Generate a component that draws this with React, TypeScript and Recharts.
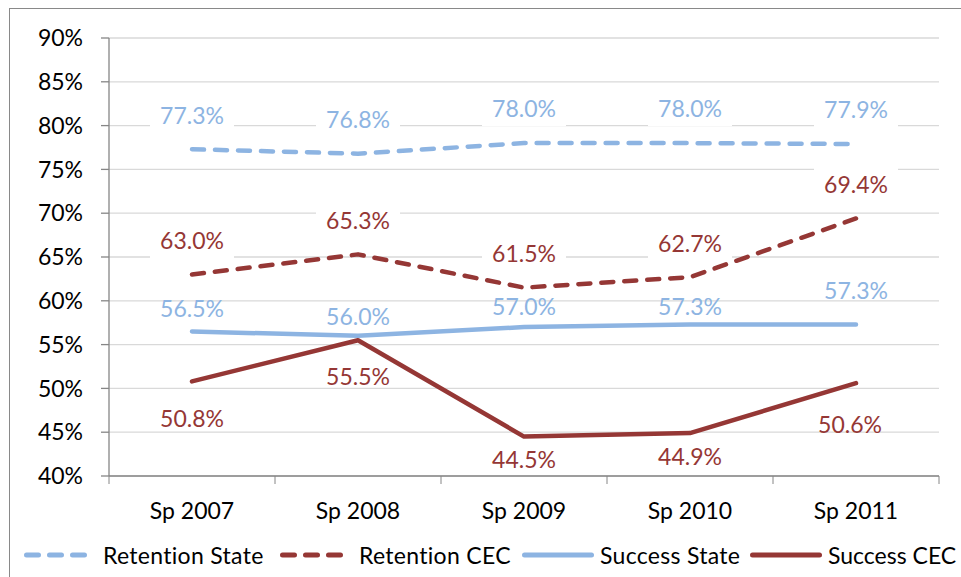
import React from "react";
import { LineChart, Line, XAxis, YAxis, CartesianGrid, LabelList } from "recharts";

const categories = ["Sp 2007", "Sp 2008", "Sp 2009", "Sp 2010", "Sp 2011"];
const retentionState = [77.3, 76.8, 78.0, 78.0, 77.9];
const retentionCEC = [63.0, 65.3, 61.5, 62.7, 69.4];
const successState = [56.5, 56.0, 57.0, 57.3, 57.3];
const successCEC = [50.8, 55.5, 44.5, 44.9, 50.6];
const yTicks = [40, 45, 50, 55, 60, 65, 70, 75, 80, 85, 90];

const BLUE = "#8DB4E2";
const RED = "#953735";
const AXIS = "#868686";
const GRID = "#D9D9D9";
const FONT = "Lato, 'Open Sans', sans-serif";
const BAND = 166;

// label placement, relative to each point (label text centre)
const labelDy = {
  retentionState: [-34, -34, -34, -34, -34],
  retentionCEC: [-33.5, -33.5, -33.5, -33.5, -33.5],
  successState: [-23, -19.5, -20.5, -18, -34],
  successCEC: [37, 36.5, 23, 23.5, 42],
};
const labelDx = {
  retentionState: [0, 0, 0, 0, 0],
  retentionCEC: [0, 0, 0, 0, 0],
  successState: [0, 0, 0, 0, 0],
  successCEC: [0, 0, 0, 0, -6],
};

const data = categories.map((name, i) => ({
  name,
  retentionState: retentionState[i],
  retentionCEC: retentionCEC[i],
  successState: successState[i],
  successCEC: successCEC[i],
}));

const makeLabel = (key: keyof typeof labelDy, color: string, boxed: boolean) => (props: any) => {
  const index = props.index ?? 0;
  const x = (props.x ?? props.viewBox?.x) + labelDx[key][index];
  const y = (props.y ?? props.viewBox?.y) + labelDy[key][index];
  const text = `${Number(props.value).toFixed(1)}%`;
  return (
    <g>
      {boxed && <rect x={x - 42} y={y - 17} width={84} height={34} fill="#fff" />}
      <text x={x} y={y + 8.3} textAnchor="middle" fill={color} fontSize={23} fontFamily={FONT}>
        {text}
      </text>
    </g>
  );
};

const XTick = (props: any) => {
  const { x, y, payload, index } = props;
  return (
    <g>
      <line x1={x - BAND / 2} x2={x - BAND / 2} y1={y} y2={y + 8} stroke={AXIS} />
      {index === categories.length - 1 && (
        <line x1={x + BAND / 2} x2={x + BAND / 2} y1={y} y2={y + 8} stroke={AXIS} />
      )}
      <text x={x} y={y + 43} textAnchor="middle" fill="#000" fontSize={23} fontFamily={FONT}>
        {payload.value}
      </text>
    </g>
  );
};

const legendItems = [
  { label: "Retention State", color: BLUE, dashed: true, left: 24 },
  { label: "Retention CEC", color: RED, dashed: true, left: 280 },
  { label: "Success State", color: BLUE, dashed: false, left: 522 },
  { label: "Success CEC", color: RED, dashed: false, left: 750 },
];

export default function App() {
  return (
    <div
      style={{
        position: "absolute",
        left: 0,
        top: 0,
        width: 961,
        height: 577,
        overflow: "hidden",
        background: "#fff",
        fontFamily: FONT,
      }}
    >
      <div
        style={{
          position: "absolute",
          left: 9,
          top: 8,
          width: 1000,
          height: 1000,
          border: "1px solid #898989",
        }}
      />
      <div style={{ position: "absolute", left: 0, top: 0 }}>
        <LineChart width={961} height={577} data={data} margin={{ top: 38, right: 22, bottom: 51, left: 0 }}>
          <CartesianGrid vertical={false} stroke={GRID} strokeWidth={1.3} />
          <XAxis
            dataKey="name"
            height={50}
            padding={{ left: BAND / 2, right: BAND / 2 }}
            axisLine={{ stroke: AXIS, strokeWidth: 1.3 }}
            tickLine={false}
            tickSize={0}
            tickMargin={0}
            interval={0}
            tick={<XTick />}
          />
          <YAxis
            width={109}
            domain={[40, 90]}
            ticks={yTicks}
            interval={0}
            tickFormatter={(v: number) => `${v}%`}
            axisLine={{ stroke: AXIS, strokeWidth: 1.3 }}
            tickLine={{ stroke: AXIS, strokeWidth: 1.3 }}
            tickSize={8}
            tickMargin={18}
            tick={{ fill: "#000", fontSize: 23, fontFamily: FONT }}
          />
          <Line
            type="linear"
            dataKey="retentionState"
            stroke={BLUE}
            strokeWidth={4.5}
            strokeDasharray="12 11"
            strokeLinecap="round"
            strokeLinejoin="round"
            dot={false}
            activeDot={false}
            isAnimationActive={false}
          >
            <LabelList dataKey="retentionState" content={makeLabel("retentionState", BLUE, true)} />
          </Line>
          <Line
            type="linear"
            dataKey="retentionCEC"
            stroke={RED}
            strokeWidth={4.5}
            strokeDasharray="12 11"
            strokeLinecap="round"
            strokeLinejoin="round"
            dot={false}
            activeDot={false}
            isAnimationActive={false}
          >
            <LabelList dataKey="retentionCEC" content={makeLabel("retentionCEC", RED, true)} />
          </Line>
          <Line
            type="linear"
            dataKey="successState"
            stroke={BLUE}
            strokeWidth={4.5}
            strokeLinecap="round"
            strokeLinejoin="round"
            dot={false}
            activeDot={false}
            isAnimationActive={false}
          >
            <LabelList dataKey="successState" content={makeLabel("successState", BLUE, false)} />
          </Line>
          <Line
            type="linear"
            dataKey="successCEC"
            stroke={RED}
            strokeWidth={4.5}
            strokeLinecap="round"
            strokeLinejoin="round"
            dot={false}
            activeDot={false}
            isAnimationActive={false}
          >
            <LabelList dataKey="successCEC" content={makeLabel("successCEC", RED, false)} />
          </Line>
        </LineChart>
      </div>
      {legendItems.map((item, i) => {
        const w = item.dashed ? 63 : 72;
        const last = i === legendItems.length - 1;
        return (
          <div
            key={item.label}
            style={{
              position: "absolute",
              left: item.left,
              top: 540,
              height: 30,
              display: "flex",
              alignItems: "center",
              whiteSpace: "nowrap",
            }}
          >
            <svg width={w} height={10} style={{ display: "block" }}>
              <line
                x1={2.5}
                x2={w - 2.5}
                y1={5}
                y2={5}
                stroke={item.color}
                strokeWidth={5}
                strokeLinecap="round"
                strokeDasharray={item.dashed ? "12 11" : undefined}
              />
            </svg>
            <span
              style={{
                marginLeft: item.dashed ? 16 : 6,
                fontSize: 23,
                letterSpacing: last ? 0 : 0.3,
                color: "#000",
                lineHeight: "30px",
              }}
            >
              {item.label}
            </span>
          </div>
        );
      })}
    </div>
  );
}
